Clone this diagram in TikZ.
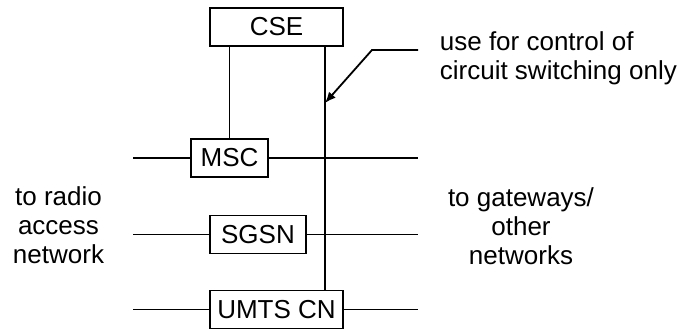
\documentclass[tikz,border=0pt]{standalone}
\usepackage{fontspec}
\setmainfont{Liberation Sans}
\usetikzlibrary{positioning, arrows.meta}

\begin{document}
\begin{tikzpicture}[
      x=0.5pt, y=-0.5pt,
      font=\fontsize{13}{14.5}\selectfont, line width=0.9pt,
      ent/.style={draw, inner sep=0pt, minimum height=19pt},
      lbl/.style={align=center, inner sep=0pt}
    ]
    \useasboundingbox (0,0) rectangle (682,329);
    \node[ent, minimum width=66.5pt] (cse) at (276.5,27) {CSE};
    \node[ent, minimum width=38.5pt] (msc) at (229.5,158) {MSC};
    \node[ent, minimum width=48pt] (sgsn) at (258,234.5) {SGSN};
    \node[ent, minimum width=66.5pt] (umts) at (276.5,309.5) {UMTS CN};
    \coordinate (lx) at (133,0);
    \coordinate (rx) at (418,0);
    \coordinate (vx) at (325,0);
    % interfaces to both sides
    \foreach \n in {msc, sgsn, umts} {
      \draw (\n.west -| lx) -- (\n.west);
      \draw (\n.east) -- (\n.east -| rx);
    }
    \draw (msc.north) -- (msc.north |- cse.south);
    \draw (cse.south -| vx) -- (umts.north -| vx);
    % pointer to the CS-only link
    \coordinate (ptr) at (418,50);
    \coordinate (bend) at (372,50);
    \coordinate (hit) at (325,103);
    \draw[-{Latex[length=5.5pt, width=4.5pt]}] (ptr) -- (bend) -- (hit);
    \node[lbl, anchor=west, align=left] (note) at (439,58) {use for control of\\circuit switching only};
    \node[lbl] (ran) at (58.5,225.5) {to radio\\access\\network};
    \node[lbl] (gw) at (521,226.5) {to gateways/\\other\\networks};
  \end{tikzpicture}
\end{document}
